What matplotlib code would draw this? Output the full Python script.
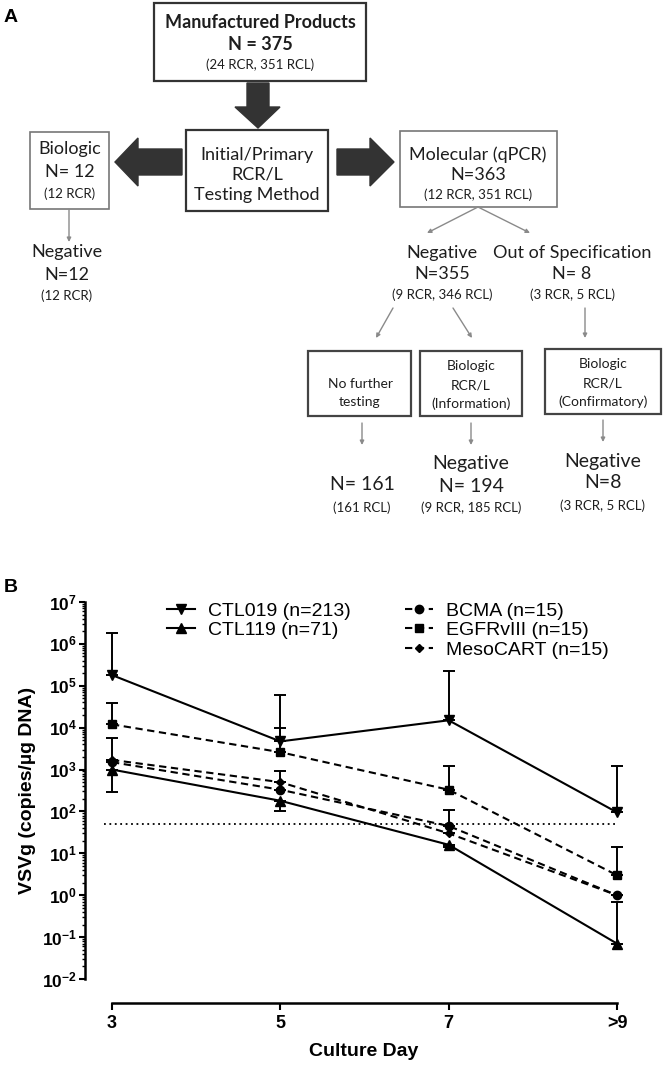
import matplotlib
matplotlib.use('Agg')
import matplotlib.pyplot as plt
from matplotlib.patches import Rectangle, Polygon
from matplotlib.ticker import FixedLocator, LogLocator, NullFormatter

plt.rcParams['mathtext.fontset'] = 'custom'
plt.rcParams['mathtext.rm'] = 'Liberation Sans:bold'
plt.rcParams['mathtext.bf'] = 'Liberation Sans:bold'

# ---- panel A: flowchart texts ----
top_box = ['Manufactured Products', 'N = 375', '(24 RCR, 351 RCL)']
method_box = ['Initial/Primary', 'RCR/L', 'Testing Method']
bio_box = ['Biologic', 'N= 12', '(12 RCR)']
bio_neg = ['Negative', 'N=12', '(12 RCR)']
mol_box = ['Molecular (qPCR)', 'N=363', '(12 RCR, 351 RCL)']
mol_neg = ['Negative', 'N=355', '(9 RCR, 346 RCL)']
mol_oos = ['Out of Specification', 'N= 8', '(3 RCR, 5 RCL)']
sub_boxes = [['No further', 'testing'],
             ['Biologic', 'RCR/L', '(Information)'],
             ['Biologic', 'RCR/L', '(Confirmatory)']]
sub_results = [['N= 161', '(161 RCL)'],
               ['Negative', 'N= 194', '(9 RCR, 185 RCL)'],
               ['Negative', 'N=8', '(3 RCR, 5 RCL)']]

# ---- panel B: VSVg copies per culture day ----
days = [3, 5, 7, 9]
day_labels = ['3', '5', '7', '>9']
ctl019 = [1.8e5, 4.7e3, 1.5e4, 9.5e1]
ctl019_hi = [1.8e6, 5.9e4, 2.2e5, 1.2e3]
ctl119 = [1.0e3, 1.8e2, 1.6e1, 7.0e-2]
ctl119_lo = [2.9e2, 1.0e2, 1.4e1, 7.0e-2]
ctl119_hi = [1.0e3, 1.8e2, 1.6e1, 7.0e-1]
bcma = [1.5e3, 3.3e2, 4.5e1, 1.0e0]
bcma_hi = [5.6e3, 9.1e2, 1.1e2, 1.0e0]
egfr = [1.2e4, 2.6e3, 3.3e2, 3.0e0]
egfr_hi = [3.8e4, 1.0e4, 1.2e3, 1.45e1]
meso = [1.7e3, 5.0e2, 3.0e1, 1.0e0]
meso_hi = [1.7e3, 5.0e2, 3.0e1, 1.0e0]
lod = 50
y_exps = [-2, -1, 0, 1, 2, 3, 4, 5, 6, 7]

W, H = 664, 1067
fig = plt.figure(figsize=(W / 100, H / 100), dpi=100)

# overlay in pixel coordinates for the flowchart
ov = fig.add_axes([0, 0, 1, 1])
ov.set_xlim(0, W)
ov.set_ylim(H, 0)
ov.axis('off')

FA = 'Lato'
ink = '#1e1e1e'


def lines(x, ys, texts, sizes, bold=None):
    for i, (y, t, s) in enumerate(zip(ys, texts, sizes)):
        w = 'bold' if bold and bold[i] else 'normal'
        ov.text(x, y, t, ha='center', va='center', fontsize=s, family=FA,
                fontweight=w, color=ink)


def box(x0, y0, x1, y1, ec, lw):
    ov.add_patch(Rectangle((x0, y0), x1 - x0, y1 - y0, fill=False, ec=ec, lw=lw))


def thin_arrow(x0, y0, x1, y1):
    ov.annotate('', xy=(x1, y1), xytext=(x0, y0),
                arrowprops=dict(arrowstyle='-|>', color='#8a8a8a', lw=1,
                                mutation_scale=6, shrinkA=0, shrinkB=0))


ov.text(11, 17, 'A', ha='center', va='center', fontsize=14, fontweight='bold',
        family='Liberation Sans')
ov.text(11, 588, 'B', ha='center', va='center', fontsize=14, fontweight='bold',
        family='Liberation Sans')

box(154, 3, 366, 81, '#333333', 1.6)
lines(260, [22, 45, 65], top_box, [13, 13, 9.5], [True, True, False])

box(186, 130, 328, 211, '#333333', 1.6)
lines(257, [155, 175, 195], method_box, [13, 13, 13])

box(30, 132, 109, 209, '#777777', 1.2)
lines(69.5, [149, 172, 194], bio_box, [13, 13, 9.5])
thin_arrow(69, 209, 69, 242)
lines(67, [252, 275, 296], bio_neg, [13, 13, 9.5])

box(400, 131, 557, 207, '#777777', 1.2)
lines(478, [155, 175, 195], mol_box, [13, 13, 9.5])
thin_arrow(478, 207, 427, 233)
thin_arrow(478, 207, 530, 233)
lines(442, [253, 274, 295], mol_neg, [13, 13, 9.5])
lines(572, [253, 274, 295], mol_oos, [13, 13, 9.5])

# big dark arrows
dark = '#333333'
ov.add_patch(Polygon([(247, 83), (269, 83), (269, 107), (280, 107), (258, 128),
                      (235, 107), (247, 107)], closed=True, fc=dark, ec=dark))
ov.add_patch(Polygon([(182, 149), (182, 175), (138, 175), (138, 186), (115, 162),
                      (138, 138), (138, 149)], closed=True, fc=dark, ec=dark))
ov.add_patch(Polygon([(337, 149), (370, 149), (370, 138), (394, 162), (370, 186),
                      (370, 175), (337, 175)], closed=True, fc=dark, ec=dark))

thin_arrow(393, 308, 376, 338)
thin_arrow(453, 308, 472, 338)
thin_arrow(585, 308, 585, 338)

box(308, 351, 411, 416, '#444444', 1.6)
box(420, 351, 522, 416, '#444444', 1.6)
box(545, 349, 661, 414, '#444444', 1.6)
lines(360, [384, 402], sub_boxes[0], [10, 10])
lines(471, [366, 385, 404], sub_boxes[1], [10, 10, 10])
lines(603, [364, 383, 402], sub_boxes[2], [10, 10, 10])

thin_arrow(362, 423, 362, 445)
thin_arrow(471, 423, 471, 445)
thin_arrow(603, 420, 603, 442)
lines(362, [484, 508], sub_results[0], [14, 9.5])
lines(471, [463, 487, 508], sub_results[1], [14, 14, 9.5])
lines(603, [461, 483, 506], sub_results[2], [14, 14, 9.5])

# ---- panel B axes ----
px_day = (617 - 112) / 6
xmin = 3 - (112 - 85) / px_day
xmax = 9.1
ax = fig.add_axes([85 / W, (H - 979) / H, (xmax - xmin) * px_day / W, 377 / H])
ax.set_yscale('log')
ax.set_xlim(xmin, xmax)
ax.set_ylim(1e-2, 1e7)
ax.patch.set_alpha(0)

FB = 'Liberation Sans'
dash = (0, (3.5, 2.2))


def errs(v, lo, hi):
    return [[a - b for a, b in zip(v, lo)], [b - a for a, b in zip(v, hi)]]


ekw = dict(fmt='none', ecolor='black', elinewidth=1.4, capsize=4, capthick=1.4)
ax.errorbar(days, ctl019, yerr=errs(ctl019, ctl019, ctl019_hi), **ekw)
ax.errorbar(days, ctl119, yerr=errs(ctl119, ctl119_lo, ctl119_hi), **ekw)
ax.errorbar(days, bcma, yerr=errs(bcma, bcma, bcma_hi), **ekw)
ax.errorbar(days, egfr, yerr=errs(egfr, egfr, egfr_hi), **ekw)
ax.errorbar(days, meso, yerr=errs(meso, meso, meso_hi), **ekw)

h1, = ax.plot(days, ctl019, color='black', lw=1.5, marker='v', ms=7,
              label='CTL019 (n=213)')
h2, = ax.plot(days, ctl119, color='black', lw=1.5, marker='^', ms=7,
              label='CTL119 (n=71)')
h3, = ax.plot(days, bcma, color='black', lw=1.5, ls=dash, marker='o', ms=6,
              label='BCMA (n=15)')
h4, = ax.plot(days, egfr, color='black', lw=1.5, ls=dash, marker='s', ms=6,
              label='EGFRvIII (n=15)')
h5, = ax.plot(days, meso, color='black', lw=1.5, ls=dash, marker='D', ms=4.5,
              label='MesoCART (n=15)')

ax.plot([2.9, 9], [lod, lod], color='black', lw=1.3, ls=(0, (1, 2)))

for s in ['top', 'right']:
    ax.spines[s].set_visible(False)
ax.spines['left'].set_linewidth(1.8)
ax.spines['left'].set_bounds(1e-2, 1e7)
ax.spines['bottom'].set_linewidth(1.8)
ax.spines['bottom'].set_bounds(3, 9)
ax.spines['bottom'].set_position(('outward', 17))

ax.set_xticks(days)
ax.set_xticklabels(day_labels, fontsize=13, fontweight='bold', family=FB)
ax.yaxis.set_major_locator(FixedLocator([10.0 ** e for e in y_exps]))
ax.set_yticklabels([r'$\mathbf{10^{%d}}$' % e for e in y_exps], fontsize=12.5)
ax.yaxis.set_minor_locator(LogLocator(base=10, subs=range(2, 10), numticks=30))
ax.yaxis.set_minor_formatter(NullFormatter())
ax.tick_params(axis='y', which='major', length=4, width=1.5, pad=2)
ax.tick_params(axis='y', which='minor', length=2.5, width=1)
ax.tick_params(axis='x', length=5, width=1.5, pad=4)

ax.set_ylabel('VSVg (copies/\u00b5g DNA)', fontsize=14, fontweight='bold',
              family=FB, labelpad=4)
fig.text(364 / W, 1 - 1052 / H, 'Culture Day', ha='center', va='center',
         fontsize=14, fontweight='bold', family=FB)

lg1 = fig.legend(handles=[h1, h2], loc='upper left',
                 bbox_to_anchor=(167 / W, 1 - 602 / H), frameon=False,
                 prop={'family': FB, 'size': 14}, handlelength=1.45,
                 handletextpad=0.65, labelspacing=0.1, borderpad=0,
                 borderaxespad=0)
lg2 = fig.legend(handles=[h3, h4, h5], loc='upper left',
                 bbox_to_anchor=(405 / W, 1 - 602 / H), frameon=False,
                 prop={'family': FB, 'size': 14}, handlelength=1.45,
                 handletextpad=0.65, labelspacing=0.1, borderpad=0,
                 borderaxespad=0)

fig.savefig('out.png', dpi=100)
